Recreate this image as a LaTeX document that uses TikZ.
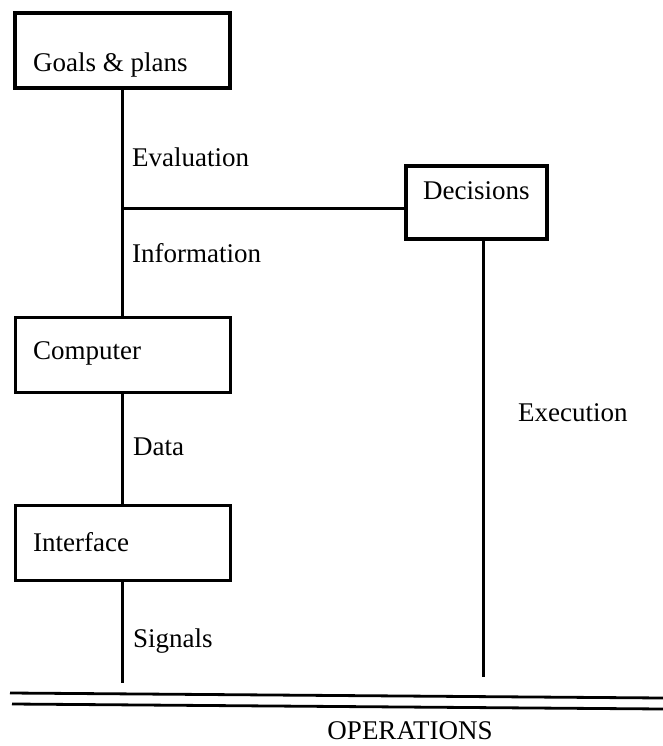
\documentclass[tikz,border=0pt]{standalone}
\usepackage{fontspec}
\setmainfont{Liberation Serif}
\begin{document}
\begin{tikzpicture}[x=1pt,y=-1pt,
  box/.style={draw,line width=3.2pt,inner sep=0pt,minimum width=#1,minimum height=75pt},
  box/.default=215pt,
  lbl/.style={anchor=base west,inner sep=0pt,font=\fontsize{27}{32}\selectfont},
  wire/.style={line width=3pt},
  rule/.style={line width=2.8pt}]
\useasboundingbox (0,0) rectangle (663,746);

% boxes
\node[box] (goals) at (122.5,50.5) {};
\node[box] (computer) at (123,355) {};
\node[box] (interface) at (123,543) {};
\node[box=141pt,minimum height=73pt] (decisions) at (476.5,202.5) {};

% box captions
\node[lbl] (goalsT) at (33,72) {Goals \& plans};
\node[lbl] (computerT) at (33,359) {Computer};
\node[lbl] (interfaceT) at (33,551) {Interface};
\node[lbl] (decisionsT) at (423,199) {Decisions};

% connectors
\coordinate (junc) at (122,208);
\coordinate (sigEnd) at (122,683);
\coordinate (execEnd) at (483,677);
\draw[wire] (122,88) -- (122,317);
\draw[wire] (122,393) -- (122,506);
\draw[wire] (122,580) -- (sigEnd);
\draw[wire] (junc) -- (junc -| decisions.west);
\draw[wire] (execEnd |- decisions.south) -- (execEnd);

% connector labels
\node[lbl] (eval) at (132,167) {Evaluation};
\node[lbl] (info) at (132,262) {Information};
\node[lbl] (data) at (133,455) {Data};
\node[lbl] (sig) at (133,647) {Signals};
\node[lbl] (exec) at (518,421) {Execution};

% ground line
\coordinate (r1a) at (10,693);
\coordinate (r1b) at (663,698);
\coordinate (r2a) at (12,704);
\coordinate (r2b) at (663,709);
\draw[rule] (r1a) -- (r1b);
\draw[rule] (r2a) -- (r2b);
\node[lbl,anchor=base] (ops) at (410,739) {OPERATIONS};
\end{tikzpicture}
\end{document}
